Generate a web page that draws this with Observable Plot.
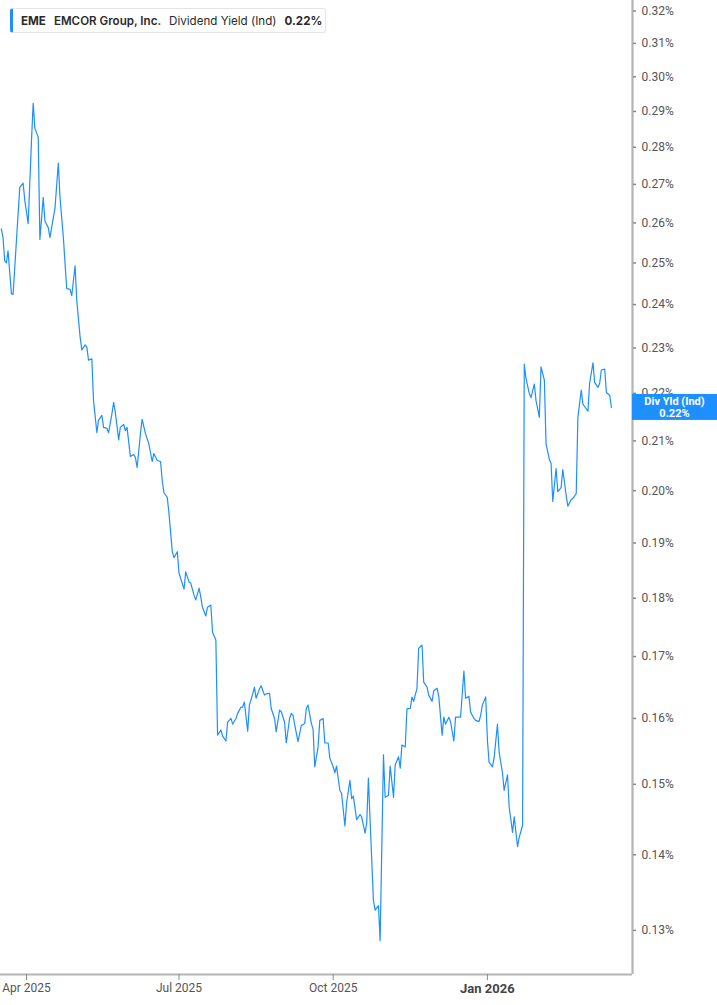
<!DOCTYPE html>
<html><head><meta charset="utf-8">
<script src="https://cdn.jsdelivr.net/npm/d3@7"></script>
<script src="https://cdn.jsdelivr.net/npm/@observablehq/plot@0.6"></script>
<style>
body{margin:0;background:#fff;}
#wrap{position:relative;width:717px;height:1005px;overflow:hidden;}
#hdr{position:absolute;left:10px;top:8px;width:312px;height:23px;border:1px solid #e4e4e4;border-left:3px solid #1e8fff;border-radius:3px;background:#fff;display:flex;align-items:center;font-family:Inter, "Open Sans", sans-serif;font-size:11.6px;color:#2a2a2a;white-space:nowrap;box-sizing:content-box;}
#hdr span{display:inline-block;}
</style></head>
<body><div id="wrap">
</div>
<script>
const dates = [
"2025-03-17","2025-03-18","2025-03-19","2025-03-20","2025-03-21","2025-03-23","2025-03-24","2025-03-26","2025-03-28","2025-03-30",
"2025-03-31","2025-04-02","2025-04-04","2025-04-05","2025-04-06","2025-04-08","2025-04-09","2025-04-11","2025-04-12","2025-04-14",
"2025-04-15","2025-04-17","2025-04-18","2025-04-20","2025-04-21","2025-04-23","2025-04-25","2025-04-27","2025-04-28","2025-04-30",
"2025-05-01","2025-05-03","2025-05-04","2025-05-06","2025-05-07","2025-05-08","2025-05-10","2025-05-11","2025-05-13","2025-05-14",
"2025-05-16","2025-05-17","2025-05-19","2025-05-20","2025-05-22","2025-05-23","2025-05-24","2025-05-26","2025-05-27","2025-05-29",
"2025-05-30","2025-05-31","2025-06-02","2025-06-04","2025-06-05","2025-06-06","2025-06-08","2025-06-09","2025-06-11","2025-06-13",
"2025-06-15","2025-06-16","2025-06-18","2025-06-20","2025-06-21","2025-06-22","2025-06-24","2025-06-25","2025-06-27","2025-06-28",
"2025-06-30","2025-07-01","2025-07-04","2025-07-05","2025-07-07","2025-07-08","2025-07-10","2025-07-11","2025-07-13","2025-07-14",
"2025-07-15","2025-07-17","2025-07-18","2025-07-20","2025-07-21","2025-07-23","2025-07-24","2025-07-26","2025-07-27","2025-07-29",
"2025-07-30","2025-08-01","2025-08-02","2025-08-04","2025-08-05","2025-08-07","2025-08-08","2025-08-09","2025-08-11","2025-08-12",
"2025-08-14","2025-08-15","2025-08-16","2025-08-18","2025-08-19","2025-08-21","2025-08-22","2025-08-24","2025-08-25","2025-08-27",
"2025-08-28","2025-08-30","2025-08-31","2025-09-02","2025-09-03","2025-09-05","2025-09-06","2025-09-07","2025-09-09","2025-09-10",
"2025-09-12","2025-09-14","2025-09-15","2025-09-16","2025-09-18","2025-09-19","2025-09-20","2025-09-22","2025-09-23","2025-09-25",
"2025-09-26","2025-09-28","2025-09-29","2025-10-01","2025-10-02","2025-10-03","2025-10-05","2025-10-06","2025-10-08","2025-10-09",
"2025-10-11","2025-10-12","2025-10-13","2025-10-15","2025-10-17","2025-10-18","2025-10-20","2025-10-21","2025-10-22","2025-10-23",
"2025-10-25","2025-10-26","2025-10-28","2025-10-29","2025-10-31","2025-11-01","2025-11-03","2025-11-04","2025-11-06","2025-11-07",
"2025-11-09","2025-11-10","2025-11-11","2025-11-13","2025-11-14","2025-11-16","2025-11-17","2025-11-18","2025-11-20","2025-11-21",
"2025-11-23","2025-11-24","2025-11-26","2025-11-27","2025-11-29","2025-11-30","2025-12-02","2025-12-03","2025-12-05","2025-12-06",
"2025-12-07","2025-12-09","2025-12-10","2025-12-12","2025-12-13","2025-12-15","2025-12-16","2025-12-18","2025-12-19","2025-12-21",
"2025-12-22","2025-12-24","2025-12-25","2025-12-27","2025-12-28","2025-12-29","2025-12-31","2026-01-01","2026-01-02","2026-01-04",
"2026-01-05","2026-01-07","2026-01-08","2026-01-10","2026-01-11","2026-01-13","2026-01-14","2026-01-16","2026-01-17","2026-01-19",
"2026-01-20","2026-01-22","2026-01-23","2026-01-24","2026-01-26","2026-01-27","2026-01-29","2026-01-30","2026-02-01","2026-02-02",
"2026-02-04","2026-02-05","2026-02-07","2026-02-08","2026-02-09","2026-02-11","2026-02-12","2026-02-14","2026-02-15","2026-02-17",
"2026-02-18","2026-02-20","2026-02-21","2026-02-23","2026-02-24","2026-02-26","2026-02-27","2026-02-28","2026-03-02","2026-03-03",
"2026-03-05","2026-03-06","2026-03-08","2026-03-09","2026-03-10","2026-03-12","2026-03-13","2026-03-15","2026-03-16"
];
const yields = [
0.2585,0.2563,0.2505,0.2500,0.2530,0.2426,0.2424,0.2555,0.2692,0.2703,
0.2658,0.2598,0.2819,0.2923,0.2853,0.2828,0.2558,0.2666,0.2605,0.2588,
0.2563,0.2613,0.2637,0.2757,0.2666,0.2563,0.2438,0.2436,0.2421,0.2493,
0.2410,0.2325,0.2296,0.2307,0.2302,0.2273,0.2276,0.2185,0.2117,0.2143,
0.2153,0.2128,0.2126,0.2117,0.2157,0.2181,0.2160,0.2102,0.2128,0.2134,
0.2121,0.2128,0.2068,0.2072,0.2066,0.2046,0.2115,0.2145,0.2115,0.2094,
0.2058,0.2074,0.2060,0.2058,0.2020,0.1996,0.1987,0.1957,0.1884,0.1873,
0.1884,0.1845,0.1816,0.1847,0.1829,0.1827,0.1805,0.1797,0.1818,0.1802,
0.1784,0.1769,0.1784,0.1788,0.1741,0.1728,0.1574,0.1582,0.1573,0.1565,
0.1594,0.1600,0.1591,0.1600,0.1608,0.1618,0.1618,0.1626,0.1580,0.1621,
0.1639,0.1650,0.1632,0.1647,0.1652,0.1637,0.1639,0.1640,0.1616,0.1600,
0.1579,0.1613,0.1611,0.1594,0.1562,0.1600,0.1608,0.1605,0.1577,0.1564,
0.1589,0.1592,0.1616,0.1621,0.1592,0.1583,0.1526,0.1556,0.1597,0.1600,
0.1562,0.1562,0.1539,0.1526,0.1517,0.1527,0.1491,0.1487,0.1440,0.1473,
0.1506,0.1479,0.1483,0.1449,0.1456,0.1453,0.1430,0.1444,0.1509,0.1449,
0.1339,0.1326,0.1332,0.1287,0.1544,0.1481,0.1484,0.1527,0.1481,0.1529,
0.1541,0.1524,0.1559,0.1556,0.1615,0.1616,0.1634,0.1627,0.1648,0.1714,
0.1719,0.1658,0.1650,0.1637,0.1627,0.1644,0.1648,0.1635,0.1574,0.1602,
0.1591,0.1602,0.1595,0.1565,0.1602,0.1602,0.1602,0.1676,0.1632,0.1635,
0.1610,0.1600,0.1597,0.1595,0.1605,0.1621,0.1634,0.1567,0.1533,0.1526,
0.1539,0.1591,0.1548,0.1517,0.1491,0.1514,0.1467,0.1431,0.1453,0.1411,
0.1424,0.1441,0.2264,0.2233,0.2200,0.2191,0.2220,0.2185,0.2149,0.2258,
0.2229,0.2094,0.2062,0.2054,0.1979,0.2044,0.1998,0.2006,0.2042,0.1991,
0.1970,0.1983,0.1985,0.1994,0.2149,0.2207,0.2177,0.2172,0.2162,0.2222,
0.2267,0.2224,0.2213,0.2222,0.2251,0.2253,0.2202,0.2196,0.2170
];
const yTicks = [0.13,0.14,0.15,0.16,0.17,0.18,0.19,0.20,0.21,0.22,0.23,0.24,0.25,0.26,0.27,0.28,0.29,0.30,0.31,0.32];
const xTickDates = ["2025-04-01","2025-07-01","2025-10-01"];
const xTickLabels = ["Apr 2025","Jul 2025","Oct 2025"];
const xYearTickDates = ["2026-01-01"];
const xYearTickLabels = ["Jan 2026"];
const xDomain = ["2025-03-16T12:00Z","2026-03-28T14:00Z"];
const yDomain = [0.1245,0.3233];
const ticker = "EME";
const company = "EMCOR Group, Inc.";
const metric = "Dividend Yield (Ind)";
const badgeLabel = "Div Yld (Ind)";

const data = dates.map((d,i)=>({date:new Date(d), v:yields[i]}));
const lastV = yields[yields.length-1];
const fmt = v => v.toFixed(2) + "%";
const axisColor = "#b4b4b4";
const lineColor = "#1e8fff";

const plot = Plot.plot({
  width:717, height:1005,
  marginLeft:0, marginRight:85, marginTop:0, marginBottom:31,
  style:{fontFamily:"Roboto, sans-serif", fontSize:"12px", color:"#555", background:"transparent", overflow:"visible"},
  x:{type:"utc", domain:xDomain.map(d=>new Date(d))},
  y:{type:"log", domain:yDomain},
  marks:[
    Plot.lineY(data,{x:"date", y:"v", stroke:lineColor, strokeWidth:1.2}),
    Plot.ruleY([yDomain[0]],{stroke:axisColor, strokeWidth:2.2}),
    Plot.ruleX([new Date(xDomain[1])],{stroke:axisColor, strokeWidth:2.2}),
    Plot.axisY({anchor:"right", ticks:yTicks, tickFormat:fmt, tickSize:3, tickPadding:6, stroke:"#888", strokeWidth:1.5, fill:"#555", label:null}),
    Plot.axisX({ticks:xTickDates.map(d=>new Date(d)), tickFormat:(d,i)=>xTickLabels[i], tickSize:6, tickPadding:3, stroke:"#888", fill:"#555", label:null}),
    Plot.axisX({ticks:xYearTickDates.map(d=>new Date(d)), tickFormat:(d,i)=>xYearTickLabels[i], tickSize:6, tickPadding:3, stroke:"#888", fill:"#444", fontWeight:"bold", fontSize:13, label:null})
  ]
});

const svg = d3.select(plot);
const cy = plot.scale("y").apply(lastV);
const xr = plot.scale("x").range;
const bx = xr[1];
const bg = svg.append("g");
bg.append("rect").attr("x", bx).attr("y", cy-13).attr("width", 717-bx).attr("height", 26).attr("fill", lineColor);
bg.append("text").attr("x", (bx+717)/2).attr("y", cy-2).attr("text-anchor","middle")
  .attr("fill","#fff").attr("font-weight","bold").attr("font-size",11).attr("font-family","Roboto, sans-serif").text(badgeLabel);
bg.append("text").attr("x", (bx+717)/2).attr("y", cy+10).attr("text-anchor","middle")
  .attr("fill","#fff").attr("font-weight","bold").attr("font-size",11).attr("font-family","Roboto, sans-serif").text(fmt(lastV));

const wrap = document.getElementById("wrap");
wrap.appendChild(plot);
const hdr = document.createElement("div");
hdr.id = "hdr";
hdr.innerHTML = `<span style="font-weight:700;margin-left:8px;margin-right:8px">${ticker}</span>`+
  `<span style="font-weight:600;margin-right:8px">${company}</span>`+
  `<span style="font-weight:400;margin-right:8px">${metric}</span>`+
  `<span style="font-weight:700">${fmt(lastV)}</span>`;
wrap.appendChild(hdr);
</script>
</body></html>
